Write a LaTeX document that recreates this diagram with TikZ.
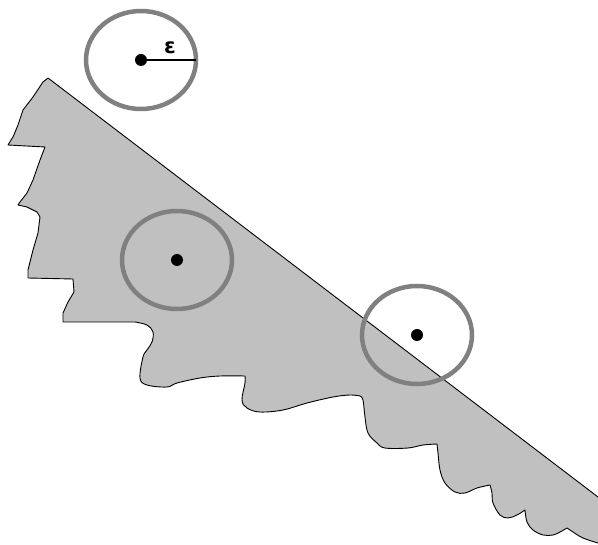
\documentclass[tikz,border=0pt]{standalone}
\usepackage{fontspec}
\newfontfamily\epsfont{DejaVu Sans}
\begin{document}
\begin{tikzpicture}[x=1pt,y=-1pt,
  region/.style={fill={rgb,255:red,192;green,192;blue,192},draw=black,line width=0.9pt,line join=round},
  ring/.style={draw={rgb,255:red,128;green,128;blue,128},line width=4.5pt},
  dotc/.style={circle,fill=black,inner sep=0pt,minimum size=12pt},
  sm/.style={smooth,tension=0.6}]
\useasboundingbox (0,0) rectangle (598,545);
\fill[white] (0,0) rectangle (598,545);
\begin{scope}
\clip (0,0) rectangle (598,545);
\path[region] (48,78) -- (598,497) -- (612,508) -- (612,548) -- (598,543)
  -- plot[sm] coordinates {(598,543) (583,538) (573,532) (567,528)}
  -- plot[sm] coordinates {(567,528) (560,532) (553,535) (543,535) (533,530) (527,522) (525,510)}
  -- plot[sm] coordinates {(525,510) (517,515) (508,518) (500,515) (493,503) (492,493) (490,485)}
  -- plot[sm] coordinates {(490,485) (477,488) (465,493) (455,492) (445,483) (440,470) (438,453) (437,444)}
  -- plot[sm] coordinates {(437,444) (423,445) (408,448) (385,448) (377,443) (368,433) (365,417) (363,400) (360,396)}
  -- plot[sm] coordinates {(360,396) (350,395) (333,397) (307,403) (283,410) (260,412) (247,408) (242,400) (245,383) (245,376)}
  -- plot[sm] coordinates {(245,376) (220,376) (200,378) (177,383) (167,387) (147,385) (140,378) (143,357) (147,350) (152,342) (153,332) (147,325) (135,322)}
  -- (63,322) -- (63,313) -- (68,302) -- (74,292) -- (73,279) -- (28,278) -- (28,270)
  -- (33,250) -- (38,233) -- (40,217) -- (37,212) -- (27,207) -- (18,205) -- (20,202)
  -- (27,193) -- (33,180) -- (40,160) -- (45,147) -- (8,145) -- (13,137) -- (18,125)
  -- (23,110) -- (33,97) -- (43,82) -- cycle;
\end{scope}
\node[dotc] (p1) at (141,60) {};
\node[dotc] (p2) at (177,260) {};
\node[dotc] (p3) at (417,335) {};
\draw[ring] (p1.center) ellipse [x radius=55, y radius=49];
\draw[ring] (p2.center) ellipse [x radius=55, y radius=49];
\draw[ring] (p3.center) ellipse [x radius=55, y radius=49];
\coordinate (e1) at (196,60);
\draw[line width=2pt] (p1.center) -- (e1);
\node[font=\epsfont\bfseries\fontsize{21}{21}\selectfont,inner sep=0pt] (eps) at (170,48) {ε};
\end{tikzpicture}
\end{document}
